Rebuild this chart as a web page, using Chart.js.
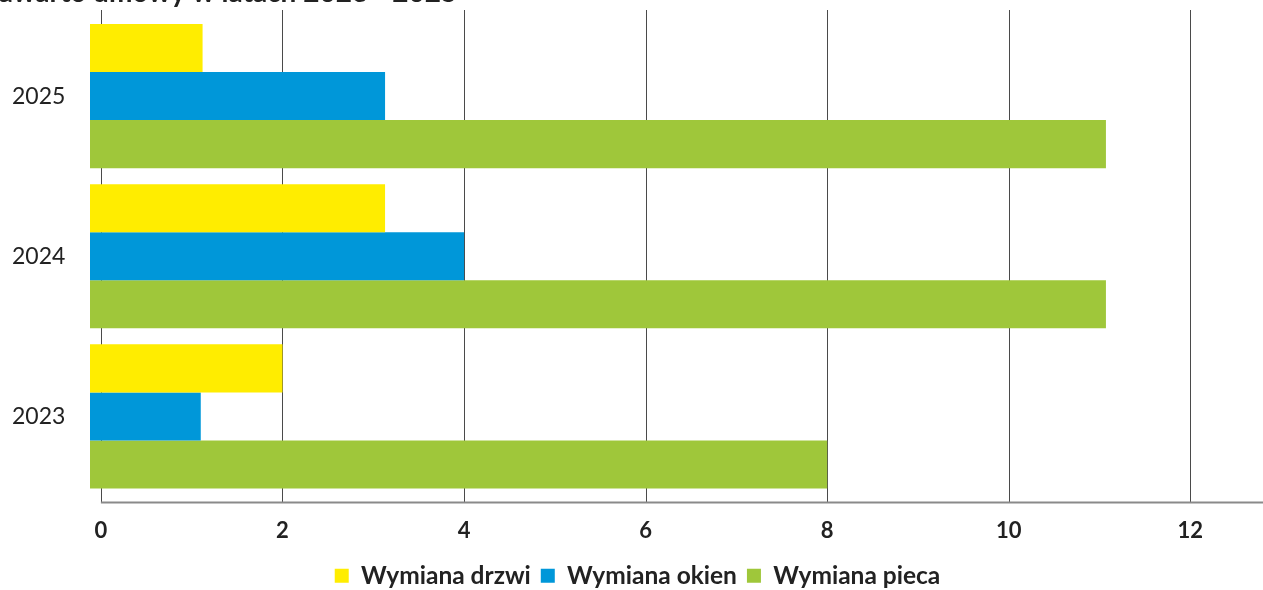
<!DOCTYPE html>
<html>
<head>
<meta charset="utf-8">
<script src="https://cdn.jsdelivr.net/npm/chart.js@4.4.0/dist/chart.umd.min.js"></script>
<style>
  html, body { margin: 0; padding: 0; background: #fff; }
  #wrap { width: 1263px; height: 590px; position: relative; }
</style>
</head>
<body>
<div id="wrap"><canvas id="chartContainer"></canvas></div>
<script>
// data
const years = ['2025', '2024', '2023'];
const drzwi = [1.12, 3.13, 2];
const okien = [3.13, 4, 1.1];
const pieca = [11.07, 11.07, 8];
const xTicks = [0, 2, 4, 6, 8, 10, 12];
const titleText = 'zawarto umowy w latach 2023 - 2025';

// grid lines and bottom axis are drawn by hand so they can reach past the bars
const gridPlugin = {
    id: 'gridPlugin',
    beforeDatasetsDraw(chart) {
        const ctx = chart.ctx;
        const area = chart.chartArea;
        const x = chart.scales.x;
        ctx.save();
        ctx.strokeStyle = '#4a4a4a';
        ctx.lineWidth = 1;
        xTicks.forEach((v) => {
            let px = Math.round(x.getPixelForValue(v)) + 0.5;
            ctx.beginPath();
            ctx.moveTo(px, area.top - 6);
            ctx.lineTo(px, area.bottom + 6);
            ctx.stroke();
        });
        ctx.strokeStyle = '#8a8a8a';
        ctx.lineWidth = 2;
        ctx.beginPath();
        ctx.moveTo(x.getPixelForValue(0), area.bottom + 6);
        ctx.lineTo(chart.width, area.bottom + 6);
        ctx.stroke();
        ctx.restore();
    },
    afterDraw(chart) {
        // title, cut off by the top edge like in the source
        const ctx = chart.ctx;
        ctx.save();
        ctx.fillStyle = '#222';
        ctx.font = 'bold 28px Lato';
        ctx.textBaseline = 'alphabetic';
        ctx.textAlign = 'left';
        ctx.fillText(titleText, -14, 2);
        ctx.restore();
    }
};

const chart = new Chart(document.getElementById('chartContainer'), {
    type: 'bar',
    data: {
        labels: years,
        datasets: [
            { label: 'Wymiana drzwi', data: drzwi, backgroundColor: '#ffed00', base: -0.12 },
            { label: 'Wymiana okien', data: okien, backgroundColor: '#0097d9', base: -0.12 },
            { label: 'Wymiana pieca', data: pieca, backgroundColor: '#9fc73a', base: -0.12 }
        ]
    },
    options: {
        indexAxis: 'y',
        responsive: true,
        maintainAspectRatio: false,
        animation: false,
        layout: { padding: { top: 16, right: 0, bottom: -8, left: 12 } },
        datasets: { bar: { categoryPercentage: 0.9, barPercentage: 1.0 } },
        scales: {
            x: {
                type: 'linear',
                min: -0.12,
                max: 12.8,
                afterBuildTicks: (scale) => { scale.ticks = xTicks.map((v) => ({ value: v })); },
                afterFit: (scale) => { scale.height = 57; },
                grid: { display: false, drawTicks: false },
                border: { display: false },
                ticks: {
                    padding: 21,
                    color: '#222',
                    font: { family: 'Lato', size: 22, weight: 'bold' }
                }
            },
            y: {
                afterFit: (scale) => { scale.width = 78; },
                grid: { display: false, drawTicks: false },
                border: { display: false },
                ticks: {
                    padding: 0,
                    crossAlign: 'far',
                    color: '#222',
                    font: { family: 'Lato', size: 23 }
                }
            }
        },
        plugins: {
            legend: {
                position: 'bottom',
                labels: {
                    boxWidth: 14,
                    boxHeight: 14,
                    padding: 10,
                    color: '#222',
                    font: { family: 'Lato', size: 24.5, weight: 'bold' }
                }
            },
            tooltip: { enabled: false }
        }
    },
    plugins: [gridPlugin]
});
</script>
</body>
</html>
